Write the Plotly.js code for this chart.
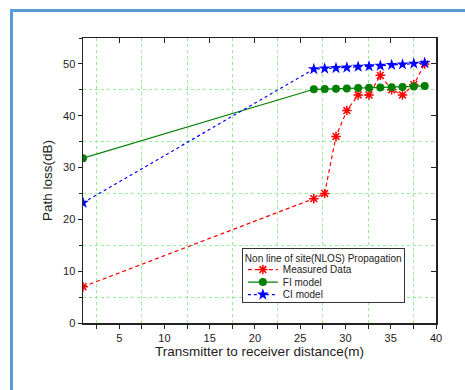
<!DOCTYPE html>
<html>
<head>
<meta charset="utf-8">
<script src="https://cdn.plot.ly/plotly-3.0.1.min.js"></script>
<style>
html,body{margin:0;padding:0;background:#fff;}
#wrap{position:relative;width:465px;height:390px;}
#plot{position:absolute;left:0;top:0;width:465px;height:390px;}
#frame{position:absolute;left:10px;top:9px;width:470px;height:400px;border-left:3.5px solid #5b9bd5;border-top:3.5px solid #5b9bd5;pointer-events:none;}
</style>
</head>
<body>
<div id="wrap"><div id="plot"></div><div id="frame"></div></div>
<script>
// Data
const distance = [1, 26.5, 27.7, 28.95, 30.15, 31.4, 32.6, 33.85, 35.1, 36.3, 37.55, 38.75];
const measured = [7.0, 24.0, 25.0, 36.0, 41.0, 44.0, 44.0, 47.8, 45.0, 44.0, 46.0, 50.0];
const fiModel  = [31.8, 45.1, 45.15, 45.2, 45.25, 45.35, 45.4, 45.45, 45.5, 45.55, 45.65, 45.75];
const ciModel  = [23.2, 49.0, 49.1, 49.2, 49.3, 49.45, 49.55, 49.65, 49.8, 49.9, 50.05, 50.2];
const seriesNames = ['Measured Data', 'FI model', 'CI model'];
const legendTitle = 'Non line of site(NLOS) Propagation';
const xTitle = 'Transmitter to receiver distance(m)';
const yTitle = 'Path loss(dB)';

const FONT = 'Liberation Sans, Arial, sans-serif';

const traces = [
  {x: distance, y: measured, name: seriesNames[0], type: 'scatter', mode: 'lines+markers',
   line: {color: '#ff0000', width: 1.2, dash: '4px,3px'},
   marker: {symbol: 'asterisk-open', size: 8, color: '#ff0000', line: {color: '#ff0000', width: 1.5}}},
  {x: distance, y: fiModel, name: seriesNames[1], type: 'scatter', mode: 'lines+markers',
   line: {color: '#008000', width: 1.2},
   marker: {symbol: 'circle', size: 8, color: '#008000'}},
  {x: distance, y: ciModel, name: seriesNames[2], type: 'scatter', mode: 'lines+markers',
   line: {color: '#0000ff', width: 1.2, dash: '3px,3px'},
   marker: {symbol: 'star', size: 9, color: '#0000ff'}},
  {x: [], y: [], xaxis: 'x2', yaxis: 'y2', showlegend: false, hoverinfo: 'skip', type: 'scatter'}
];

const gridGreen = '#95f095';
const layout = {
  width: 465, height: 390,
  margin: {l: 83, r: 29, t: 38, b: 67},
  paper_bgcolor: 'rgba(0,0,0,0)',
  plot_bgcolor: '#ffffff',
  font: {family: FONT, size: 11, color: '#222'},
  showlegend: true,
  xaxis: {
    range: [1, 40], dtick: 5, tick0: 0, showgrid: false, zeroline: false,
    showline: true, linecolor: '#222', linewidth: 1.5,
    ticks: 'outside', ticklen: 4, tickwidth: 1, tickcolor: '#222',
    tickfont: {size: 11, color: '#222'},
    minor: {dtick: 2.5, tick0: 0, showgrid: true, gridcolor: gridGreen, griddash: 'dot', gridwidth: 1,
            ticks: 'outside', ticklen: 4, tickcolor: '#222'},
    title: {text: xTitle, font: {size: 13.5, color: '#222'}, standoff: 4},
    automargin: false
  },
  yaxis: {
    range: [0, 55], dtick: 10, tick0: 0, showgrid: false, zeroline: false,
    showline: true, linecolor: '#222', linewidth: 1.5,
    ticks: 'outside', ticklen: 4, tickwidth: 1, tickcolor: '#222',
    tickfont: {size: 11, color: '#222'},
    minor: {dtick: 5, tick0: 0, showgrid: true, gridcolor: gridGreen, griddash: 'dot', gridwidth: 1,
            ticks: 'outside', ticklen: 3, tickcolor: '#222'},
    title: {text: yTitle, font: {size: 13.5, color: '#222'}, standoff: 7},
    automargin: false
  },
  xaxis2: {
    overlaying: 'x', side: 'top', matches: 'x', anchor: 'y2', range: [1, 40], dtick: 5, tick0: 0,
    showgrid: false, zeroline: false, showline: true, linecolor: '#222', linewidth: 1.5,
    ticks: 'inside', ticklen: 5, tickcolor: '#222', showticklabels: false
  },
  yaxis2: {
    overlaying: 'y', side: 'right', anchor: 'x2', range: [0, 55], dtick: 10, tick0: 0,
    showgrid: false, zeroline: false, showline: true, linecolor: '#222', linewidth: 1.5,
    ticks: 'inside', ticklen: 5, tickcolor: '#222', showticklabels: false
  },
  legend: {
    x: 0.45, y: 0.263, xanchor: 'left', yanchor: 'top',
    bgcolor: '#ffffff', bordercolor: '#333', borderwidth: 1,
    font: {size: 10, color: '#222'},
    title: {text: legendTitle, font: {size: 10, color: '#222'}},
    tracegroupgap: 0, itemwidth: 30
  }
};

Plotly.newPlot('plot', traces, layout, {displayModeBar: false, staticPlot: true}).then(function (gd) {
  // tighten legend row spacing to match the reference
  const items = gd.querySelectorAll('.legend .traces');
  if (!items.length) return;
  const parse = el => {
    const m = (el.getAttribute('transform') || '').match(/translate\(\s*([-\d.e]+)[ ,]+([-\d.e]+)\s*\)/);
    return m ? [parseFloat(m[1]), parseFloat(m[2])] : [0, 0];
  };
  const first = parse(items[0]);
  const startY = first[1] - 7;
  const step = 12.5;
  items.forEach((el, i) => {
    const p = parse(el);
    el.setAttribute('transform', 'translate(' + p[0] + ',' + (startY + i * step) + ')');
  });
  const bg = gd.querySelector('.legend rect.bg');
  if (bg) {
    const newH = startY + (items.length - 1) * step + 7;
    bg.setAttribute('height', newH);
  }
});
</script>
</body>
</html>
